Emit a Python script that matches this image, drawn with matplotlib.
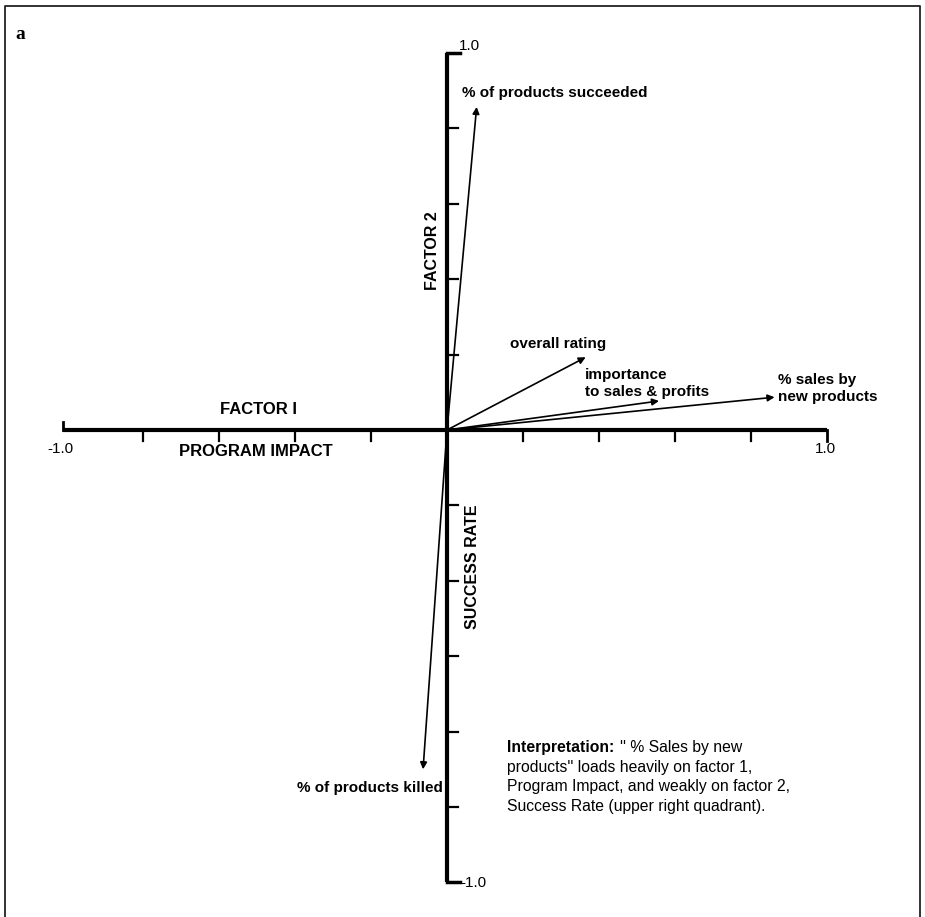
import numpy as np
import matplotlib
matplotlib.use('Agg')
import matplotlib.pyplot as plt
from matplotlib.lines import Line2D

plt.rcParams['font.family'] = ['Liberation Sans', 'DejaVu Sans']

# factor loadings (factor 1 = program impact, factor 2 = success rate)
names = ['% of products succeeded', 'overall rating', 'importance\nto sales & profits',
         '% sales by\nnew products', '% of products killed']
factor1 = [0.078, 0.365, 0.558, 0.862, -0.063]
factor2 = [0.857, 0.193, 0.077, 0.087, -0.90]

xticks = [-0.8, -0.6, -0.4, -0.2, 0.2, 0.4, 0.6, 0.8]
yticks = [-1.0, -0.8, -0.6, -0.4, -0.2, 0.2, 0.4, 0.6, 0.8]

fig = plt.figure(figsize=(9.25, 9.17), dpi=100)
ax = fig.add_axes([0, 0, 1, 1])
ax.set_xlim(-447 / 380, 478 / 380)
ax.set_ylim(-487 / 377, 430 / 377)
ax.axis('off')

# frame (open at the bottom)
fig.add_artist(Line2D([0.005, 0.005, 0.995, 0.995], [0.0, 0.993, 0.993, 0.0],
                      transform=fig.transFigure, color='#222222', lw=1.3))

# axes
ax.plot([-1.01, 1.0], [0, 0], color='black', lw=3, solid_capstyle='butt')
ax.plot([0, 0], [-1.2, 1.0], color='black', lw=3, solid_capstyle='butt')
for t in xticks:
    ax.plot([t, t], [0, -0.028], color='black', lw=1.6)
ax.plot([-1.01, -1.01], [0, 0.02], color='black', lw=2)
ax.plot([1.0, 1.0], [0, -0.03], color='black', lw=2)
for t in yticks:
    ax.plot([0, 0.03], [t, t], color='black', lw=1.6)
ax.plot([0, 0.035], [1.0, 1.0], color='black', lw=2.5)
ax.plot([0, 0.035], [-1.2, -1.2], color='black', lw=2.5)

# axis end labels
ax.text(0.03, 1.0, '1.0', fontsize=11, ha='left', va='bottom')
ax.text(0.035, -1.202, '-1.0', fontsize=11, ha='left', va='center')
ax.text(-1.016, -0.05, '-1.0', fontsize=11, ha='center', va='center')
ax.text(0.995, -0.05, '1.0', fontsize=11, ha='center', va='center')

# axis titles
ax.text(-0.495, 0.055, 'FACTOR I', fontsize=12, fontweight='bold', ha='center', va='center')
ax.text(-0.503, -0.056, 'PROGRAM IMPACT', fontsize=12, fontweight='bold', ha='center', va='center')
ax.text(-0.037, 0.477, 'FACTOR 2', fontsize=11.5, fontweight='bold', rotation=90,
        ha='center', va='center')
ax.text(0.068, -0.363, 'SUCCESS RATE', fontsize=11.5, fontweight='bold', rotation=90,
        ha='center', va='center')

# loading vectors
for fx, fy in zip(factor1, factor2):
    ax.annotate('', xy=(fx, fy), xytext=(0, 0),
                arrowprops=dict(arrowstyle='-|>', color='black', lw=1.2,
                                mutation_scale=10, shrinkA=0, shrinkB=0))

lab_pos = [(0.039, 0.894, 'left'),
           (0.166, 0.228, 'left'),
           (0.363, 0.124, 'left'),
           (0.871, 0.11, 'left'),
           (-0.011, -0.95, 'right')]
for name, (lx, ly, ha) in zip(names, lab_pos):
    ax.text(lx, ly, name, fontsize=11, fontweight='bold', ha=ha, va='center',
            multialignment='left', linespacing=1.3)

# interpretation note
head = ax.text(0.158, -0.842, 'Interpretation:', fontsize=11.3, fontweight='bold',
               ha='left', va='center')
ax.annotate("'' % Sales by new", xy=(1, 0.5), xycoords=head, xytext=(4, 0),
            textcoords='offset points', fontsize=11.3, ha='left', va='center')
note = ["products'' loads heavily on factor 1,",
        'Program Impact, and weakly on factor 2,',
        'Success Rate (upper right quadrant).']
for i, line in enumerate(note):
    ax.text(0.158, -0.894 - 0.052 * i, line, fontsize=11.3, ha='left', va='center')

# panel letter
ax.text(-1.135, 1.05, 'a', fontsize=14, fontweight='bold', family='Liberation Serif',
        ha='left', va='center')

plt.savefig('out.png', dpi=100)
